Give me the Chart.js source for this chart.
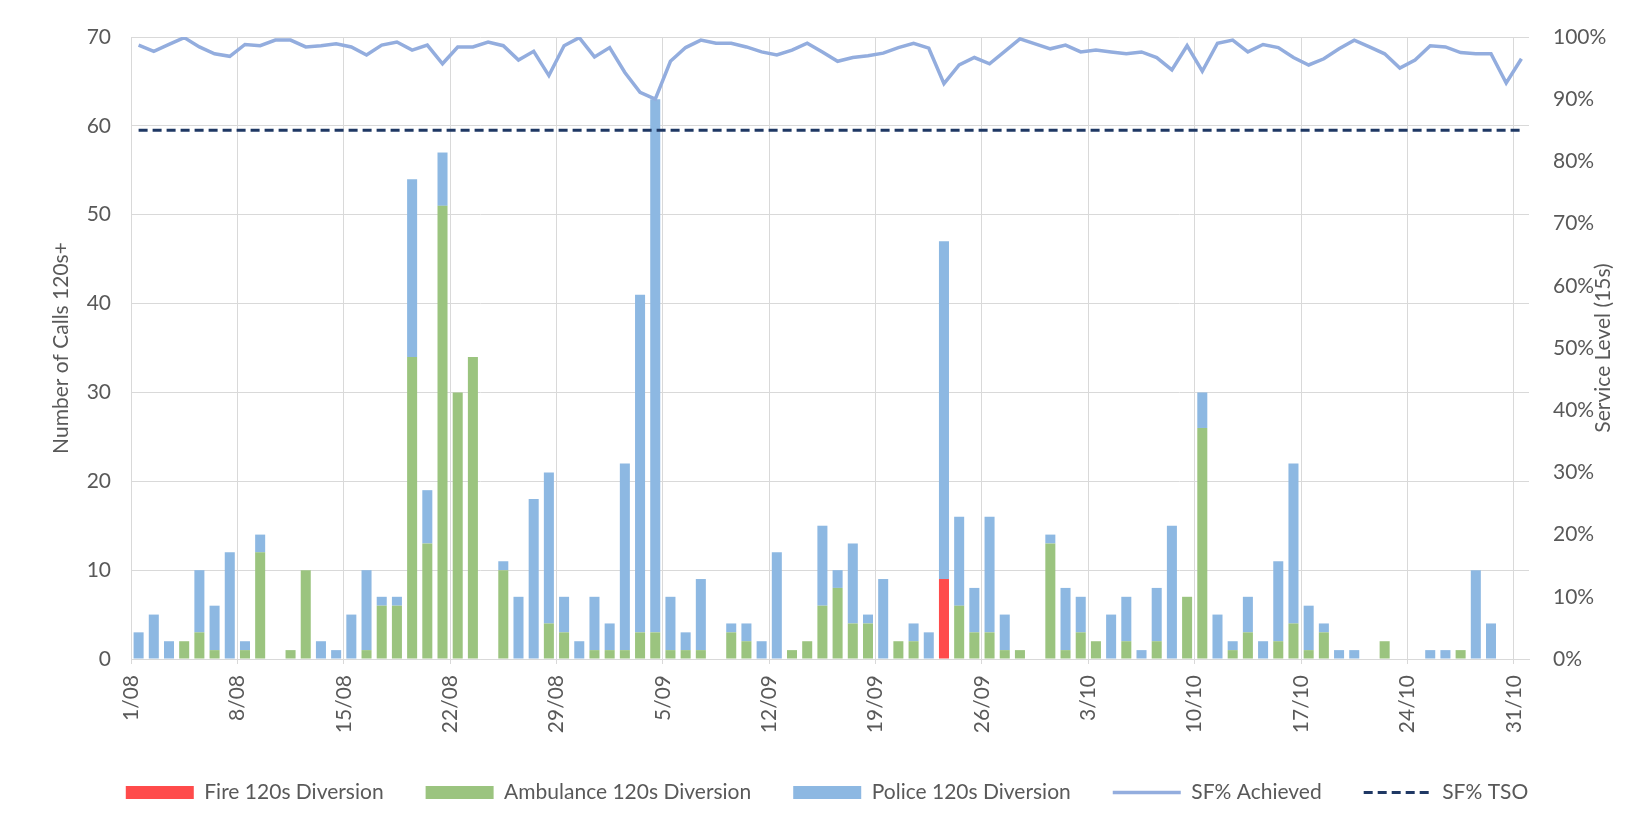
<!DOCTYPE html>
<html>
<head>
<meta charset="utf-8">
<script src="https://cdn.jsdelivr.net/npm/chart.js@4.4.1/dist/chart.umd.min.js"></script>
<style>
  html, body { margin: 0; background: #fff; }
</style>
</head>
<body>
<canvas id="chart" width="1636" height="827"></canvas>
<script>
// Axis tick labels (every 7 days, at the left edge of each day's slot)
const tickLabels = ['1/08','8/08','15/08','22/08','29/08','5/09','12/09','19/09','26/09','3/10','10/10','17/10','24/10','31/10'];
const tickDays = [0, 7, 14, 21, 28, 35, 42, 49, 56, 63, 70, 77, 84, 91];
const dayCount = 92; // 1/08 .. 31/10

// Daily counts of calls 120s+ (Aug, Sep, Oct)
const fire = [
  0,0,0,0,0,0,0,0,0,0, 0,0,0,0,0,0,0,0,0,0, 0,0,0,0,0,0,0,0,0,0, 0,
  0,0,0,0,0,0,0,0,0,0, 0,0,0,0,0,0,0,0,0,0, 0,0,9,0,0,0,0,0,0,0,
  0,0,0,0,0,0,0,0,0,0, 0,0,0,0,0,0,0,0,0,0, 0,0,0,0,0,0,0,0,0,0, 0
];
const ambulance = [
  0,0,0,2,3,1,0,1,12,0, 1,10,0,0,0,1,6,6,34,13, 51,30,34,0,10,0,0,4,3,0, 1,
  1,1,3,3,1,1,1,0,3,2, 0,0,1,2,6,8,4,4,0,2, 2,0,0,6,3,3,1,1,0,13,
  1,3,2,0,2,0,2,0,7,26, 0,1,3,0,2,4,1,3,0,0, 0,2,0,0,0,0,1,0,0,0, 0
];
const police = [
  3,5,2,0,7,5,12,1,2,0, 0,0,2,1,5,9,1,1,20,6, 6,0,0,0,1,7,18,17,4,2, 6,
  3,21,38,60,6,2,8,0,1,2, 2,12,0,0,9,2,9,1,9,0, 2,3,38,10,5,13,4,0,0,1,
  7,4,0,5,5,1,6,15,0,4, 5,1,4,2,9,18,5,1,1,1, 0,0,0,0,1,1,0,10,4,0, 0
];
// Service level achieved (%)
const sfAchieved = [
  98.7,97.7,98.8,99.9,98.4,97.3,96.9,98.8,98.6,99.5, 99.5,98.4,98.6,98.9,98.4,97.1,98.7,99.2,97.9,98.7,
  95.7,98.4,98.4,99.2,98.6,96.3,97.7,93.8,98.6,99.9, 96.8,
  98.3,94.3,91.1,90.0,96.1,98.3,99.5,99.0,99.0,98.4, 97.6,97.1,97.9,99.0,97.6,96.1,96.7,97.0,97.4,98.3,
  99.0,98.2,92.5,95.5,96.7,95.7,97.7,99.7,98.9,98.1,
  98.7,97.6,97.9,97.6,97.3,97.6,96.7,94.7,98.6,94.5, 99.0,99.5,97.6,98.8,98.3,96.7,95.5,96.5,98.1,99.5,
  98.4,97.3,95.0,96.3,98.6,98.4,97.5,97.3,97.3,92.6, 96.5
];
const sfTarget = 85; // SF% TSO

const grey = '#595959';
const fontFamily = "Lato, 'Open Sans', sans-serif";
const fontSize = 21;

const xy = arr => arr.map((v, i) => ({ x: i + 0.5, y: v }));

// rotated axis titles, both reading bottom-to-top
const axisTitles = {
  id: 'axisTitles',
  afterDraw(chart) {
    const { ctx, chartArea } = chart;
    const midY = (chartArea.top + chartArea.bottom) / 2;
    ctx.save();
    ctx.fillStyle = grey;
    ctx.font = fontSize + "px " + fontFamily;
    ctx.textAlign = 'center';
    ctx.textBaseline = 'middle';
    [[61, 'Number of Calls 120s+'], [1603, 'Service Level (15s)']].forEach(([x, text]) => {
      ctx.save();
      ctx.translate(x, midY);
      ctx.rotate(-Math.PI / 2);
      ctx.fillText(text, 0, 0);
      ctx.restore();
    });
    ctx.restore();
  }
};

// legend items for the lines: use the dataset's own width and dash
const legendLabels = chart =>
  Chart.defaults.plugins.legend.labels.generateLabels(chart).map(item => {
    const ds = chart.data.datasets[item.datasetIndex];
    if (ds.type === 'line') {
      item.lineDash = ds.borderDash || [];
      item.lineWidth = ds.borderWidth;
      item.strokeStyle = ds.borderColor;
    }
    return item;
  });

new Chart(document.getElementById('chart'), {
  type: 'bar',
  data: {
    datasets: [
      { label: 'Fire 120s Diversion', data: xy(fire), backgroundColor: '#FF4B4B',
        yAxisID: 'y', order: 1, pointStyle: 'rect' },
      { label: 'Ambulance 120s Diversion', data: xy(ambulance), backgroundColor: '#9BC47F',
        yAxisID: 'y', order: 1, pointStyle: 'rect' },
      { label: 'Police 120s Diversion', data: xy(police), backgroundColor: '#8DB8E2',
        yAxisID: 'y', order: 1, pointStyle: 'rect' },
      { type: 'line', label: 'SF% Achieved', data: xy(sfAchieved), yAxisID: 'y1',
        borderColor: '#93ADDE', borderWidth: 3.5, pointRadius: 0, tension: 0, order: 0,
        pointStyle: 'line' },
      { type: 'line', label: 'SF% TSO', data: xy(sfAchieved.map(() => sfTarget)), yAxisID: 'y1',
        borderColor: '#1F3864', borderWidth: 3, borderDash: [9, 5], pointRadius: 0, order: 0,
        pointStyle: 'line' }
    ]
  },
  options: {
    responsive: false,
    animation: false,
    layout: { padding: { top: 37, bottom: 14, left: 18, right: 0 } },
    datasets: { bar: { barPercentage: 0.66, categoryPercentage: 1 } },
    plugins: {
      tooltip: { enabled: false },
      legend: {
        position: 'bottom',
        labels: {
          usePointStyle: true,
          pointStyleWidth: 68,
          boxHeight: 13,
          padding: 42,
          color: grey,
          font: { size: fontSize, family: fontFamily },
          generateLabels: legendLabels,
          sort: (a, b) => a.datasetIndex - b.datasetIndex
        }
      }
    },
    scales: {
      x: {
        type: 'linear',
        min: 0,
        max: dayCount,
        offset: false,
        stacked: true,
        afterBuildTicks: s => { s.ticks = tickDays.map(v => ({ value: v })); },
        afterFit: s => { s.height = 81; },
        ticks: {
          autoSkip: false,
          minRotation: 90,
          maxRotation: 90,
          padding: 11,
          color: grey,
          font: { size: fontSize, family: fontFamily },
          callback: (v, i) => tickLabels[i]
        },
        grid: { color: '#D9D9D9', tickLength: 5, offset: false },
        border: { color: '#D9D9D9' }
      },
      y: {
        position: 'left',
        stacked: true,
        min: 0,
        max: 70,
        afterFit: s => { s.width = 113; },
        ticks: { stepSize: 10, padding: 20, color: grey, font: { size: fontSize, family: fontFamily } },
        grid: { color: '#D9D9D9', drawTicks: false },
        border: { display: false }
      },
      y1: {
        position: 'right',
        stacked: false,
        min: 0,
        max: 100,
        afterFit: s => { s.width = 107; },
        ticks: { stepSize: 10, padding: 24, color: grey, font: { size: fontSize, family: fontFamily },
          callback: v => v + '%' },
        grid: { display: false, drawTicks: false },
        border: { display: false }
      }
    }
  },
  plugins: [axisTitles]
});
</script>
</body>
</html>
